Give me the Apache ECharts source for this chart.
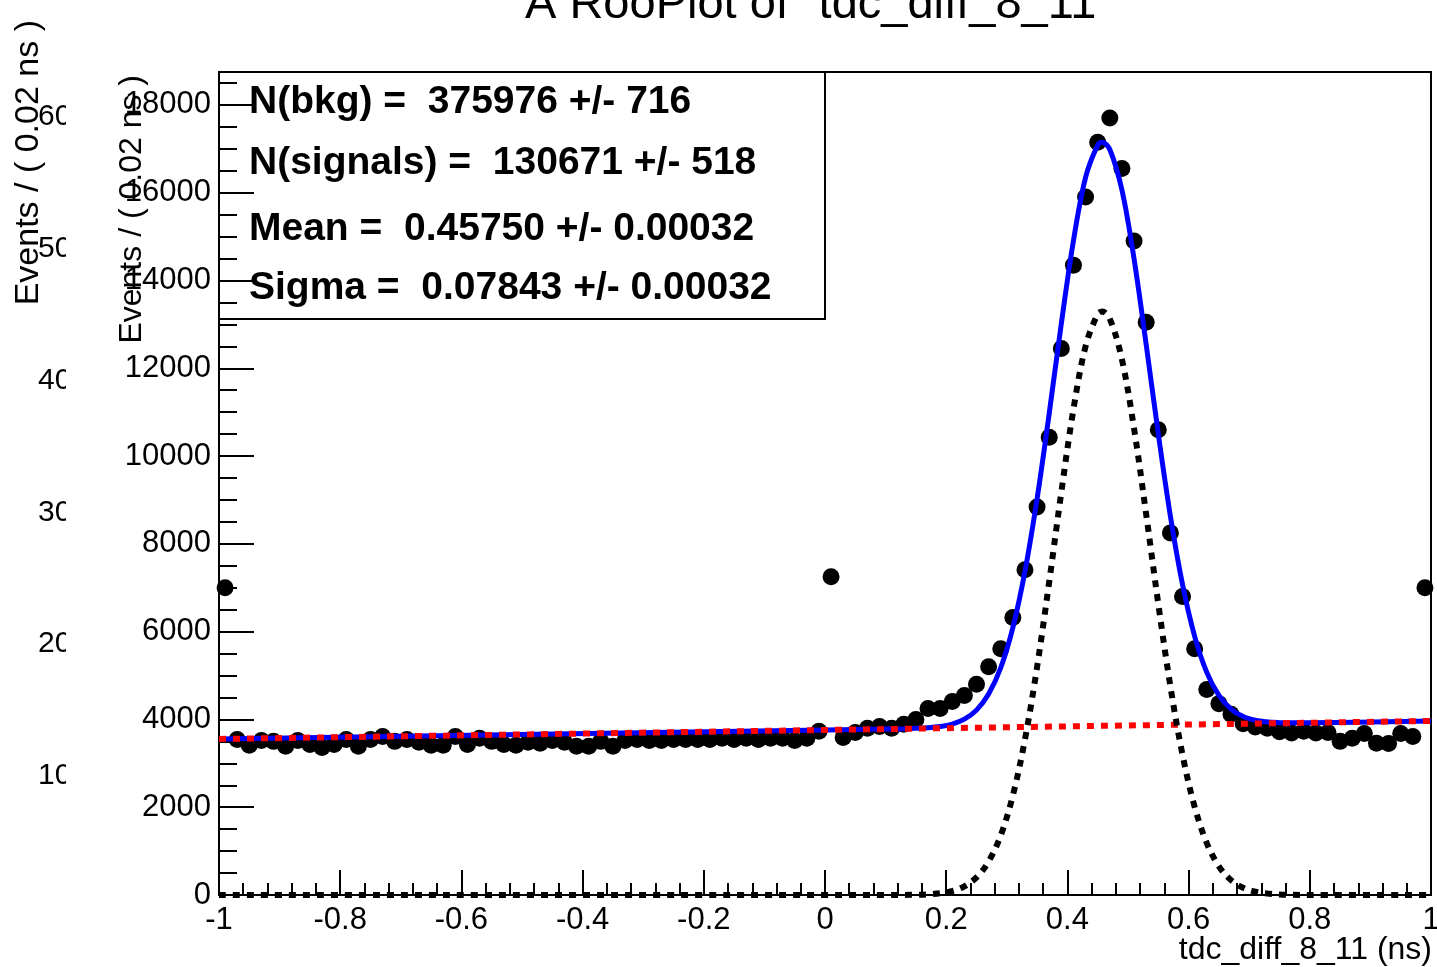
<!DOCTYPE html>
<html>
<head>
<meta charset="utf-8">
<title>A RooPlot of "tdc_diff_8_11"</title>
<script src="https://cdn.jsdelivr.net/npm/echarts@6/dist/echarts.min.js"></script>
<style>
    html, body { margin: 0; padding: 0; background: #fff; }
    #chart { width: 1437px; height: 967px; }
</style>
</head>
<body>
<div id="chart"></div>
<script>
// histogram binning: 100 bins of 0.02 ns from -1 to 1
var binLow = -1;
var binWidth = 0.02;

// events per bin
var counts = [
    7000, 3545, 3410, 3520, 3500, 3390, 3520, 3430, 3360, 3430,
    3545, 3390, 3545, 3610, 3500, 3545, 3480, 3410, 3410, 3610,
    3430, 3570, 3500, 3430, 3410, 3480, 3455, 3520, 3480, 3390,
    3390, 3500, 3390, 3520, 3545, 3520, 3520, 3545, 3545, 3545,
    3545, 3570, 3545, 3570, 3545, 3570, 3570, 3520, 3570, 3730,
    7250, 3590, 3700, 3800, 3840, 3800, 3890, 4000, 4250, 4250,
    4410, 4545, 4800, 5200, 5610, 6320, 7410, 8840, 10430, 12450,
    14350, 15900, 17150, 17700, 16550, 14900, 13050, 10600, 8250, 6800,
    5610, 4680, 4360, 4120, 3900, 3830, 3800, 3720, 3690, 3730,
    3690, 3700, 3500, 3570, 3680, 3460, 3450, 3680, 3610, 7000
];

// fitted curves, sampled from the plot
var curveX = [-1, 0, 0.1, 0.13, 0.15, 0.17, 0.19, 0.21, 0.23, 0.25, 0.27, 0.29, 0.31, 0.33, 0.35,
    0.37, 0.39, 0.41, 0.43, 0.45, 0.4575, 0.47, 0.49, 0.51, 0.53, 0.55, 0.57, 0.59, 0.61,
    0.63, 0.65, 0.67, 0.69, 0.71, 0.73, 0.75, 0.77, 0.8, 1];
var totalCurve = [3555, 3760, 3781, 3789, 3797, 3811, 3839, 3894, 4005, 4212, 4578, 5177, 6092, 7375, 9029,
    10972, 13020, 14910, 16350, 17085, 17148, 16983, 16060, 14491, 12541, 10504, 8628, 7072, 5893,
    5072, 4547, 4236, 4065, 3981, 3942, 3927, 3923, 3924, 3965];
var signalCurve = [0, 0, 0, 2, 6, 16, 40, 91, 198, 401, 763, 1358, 2268, 3547, 5197,
    7136, 9180, 11066, 12502, 13233, 13294, 13127, 12200, 10626, 8672, 6631, 4751, 3191, 2008,
    1183, 654, 339, 164, 75, 32, 13, 5, 1, 0];
var bkgX = [-1, 1];
var bkgCurve = [3555, 3965];

// fit results box
var fitLines = [
    'N(bkg) =  375976 +/- 716',
    'N(signals) =  130671 +/- 518',
    'Mean =  0.45750 +/- 0.00032',
    'Sigma =  0.07843 +/- 0.00032'
];
// labels of the axis left over from the pad underneath
var ghostLabels = ['60000', '50000', '40000', '30000', '20000', '10000'];

function pairs(xs, ys) {
    return xs.map(function(x, i) { return [x, ys[i]]; });
}

var chart = echarts.init(document.getElementById('chart'));
var font = 'Liberation Sans, Arial, Helvetica, sans-serif';

var histData = counts.map(function(v, i) {
    return [+(binLow + binWidth * (i + 0.5)).toFixed(3), v];
});

var graphics = [];
ghostLabels.forEach(function(t, i) {
    graphics.push({
        type: 'text', x: 38, y: 117 + i * 131.8, z: 1,
        style: { text: t, font: '30px ' + font, fill: '#000', align: 'left', verticalAlign: 'middle' }
    });
});
// the other pad is cut at its edge
graphics.push({
    type: 'rect', z: 2, shape: { x: 66, y: 80, width: 57, height: 760 },
    style: { fill: '#fff' }
});
graphics.push({
    type: 'text', x: 29, y: 20, rotation: Math.PI / 2, z: 3,
    style: { text: 'Events / ( 0.02 ns )', font: '34px ' + font, fill: '#000', align: 'right', verticalAlign: 'middle' }
});
graphics.push({
    type: 'text', x: 132, y: 75, rotation: Math.PI / 2, z: 3,
    style: { text: 'Events / ( 0.02 ns )', font: '32px ' + font, fill: '#000', align: 'right', verticalAlign: 'middle' }
});
graphics.push({
    type: 'text', x: 525, y: 5, z: 3,
    style: { text: 'A RooPlot of "tdc_diff_8_11"', font: '47px ' + font, fill: '#000', align: 'left', verticalAlign: 'middle' }
});
graphics.push({
    type: 'text', x: 1432, y: 950, z: 3,
    style: { text: 'tdc_diff_8_11 (ns)', font: '32px ' + font, fill: '#000', align: 'right', verticalAlign: 'middle' }
});
graphics.push({
    type: 'rect', z: 3, shape: { x: 219, y: 72, width: 606, height: 247 },
    style: { fill: 'none', stroke: '#000', lineWidth: 2 }
});
var lineY = [102, 163, 229, 288];
fitLines.forEach(function(t, i) {
    graphics.push({
        type: 'text', x: 249, y: lineY[i], z: 3,
        style: { text: t, font: 'bold 39px ' + font, fill: '#000', align: 'left', verticalAlign: 'middle' }
    });
});

var option = {
    animation: false,
    backgroundColor: '#fff',
    textStyle: { fontFamily: font },
    grid: {
        left: 219, top: 72, width: 1212, height: 823,
        show: true, borderColor: '#000', borderWidth: 2,
        backgroundColor: 'transparent',
        containLabel: false, outerBoundsMode: 'none'
    },
    xAxis: {
        type: 'value', min: -1, max: 1, interval: 0.2,
        axisLine: { show: true, onZero: false, lineStyle: { color: '#000', width: 2 } },
        axisTick: { show: true, inside: true, length: 25, lineStyle: { color: '#000', width: 2 } },
        minorTick: { show: true, splitNumber: 5, length: 12, lineStyle: { color: '#000', width: 2 } },
        axisLabel: { color: '#000', fontSize: 31, margin: 10, fontFamily: font },
        splitLine: { show: false },
        minorSplitLine: { show: false }
    },
    yAxis: [{
        type: 'value', min: 0, max: 18750, interval: 2000, position: 'left',
        axisLine: { show: true, onZero: false, lineStyle: { color: '#000', width: 2 } },
        axisTick: { show: true, inside: true, length: 35, lineStyle: { color: '#000', width: 2 } },
        axisLabel: {
            color: '#000', fontSize: 31, margin: 8, fontFamily: font,
            formatter: function(v) { return v % 2000 === 0 ? String(v) : ''; }
        },
        splitLine: { show: false }
    }, {
        // minor ticks every 500
        type: 'value', min: 0, max: 18750, interval: 500, position: 'left',
        axisLine: { show: false, onZero: false },
        axisTick: { show: true, inside: true, length: 18, lineStyle: { color: '#000', width: 2 } },
        axisLabel: { show: false },
        splitLine: { show: false }
    }],
    graphic: graphics,
    series: [{
        name: 'data',
        type: 'scatter',
        data: histData,
        symbolSize: 17,
        itemStyle: { color: '#000', opacity: 1 },
        clip: false,
        z: 2
    }, {
        name: 'total',
        type: 'line',
        data: pairs(curveX, totalCurve),
        showSymbol: false,
        smooth: 0.35,
        lineStyle: { color: '#0000ff', width: 5 },
        z: 3
    }, {
        name: 'bkg',
        type: 'line',
        data: pairs(bkgX, bkgCurve),
        showSymbol: false,
        lineStyle: { color: '#ff0000', width: 6, type: [7, 7] },
        z: 4
    }, {
        name: 'signal',
        type: 'line',
        data: pairs(curveX, signalCurve),
        showSymbol: false,
        smooth: 0.35,
        lineStyle: { color: '#000', width: 6, type: [7, 7] },
        z: 4
    }]
};
chart.setOption(option);
</script>
</body>
</html>
